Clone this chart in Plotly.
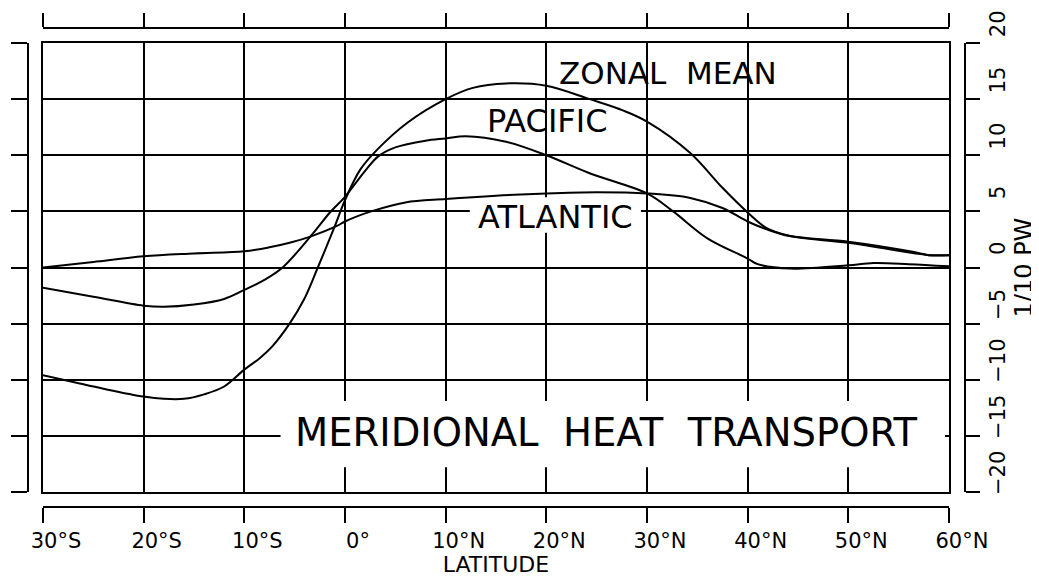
import plotly.graph_objects as go

# ---------------- data ----------------
lat_zonal = [-30, -27, -24, -20, -18, -16, -14, -12, -10, -8.5, -7.2, -5.5, -4.1, -2.7, -1, 0,
             1.5, 3.2, 6.2, 10, 12.7, 16, 20, 24.3, 27.6, 30, 34.3, 37.5, 40, 41.9, 44.2, 50,
             56.4, 58, 60]
zonal_mean = [-9.6, -10.2, -10.8, -11.5, -11.7, -11.7, -11.3, -10.6, -9.1, -8.1, -7.0, -5.0,
              -2.9, 0.0, 3.7, 6.0, 8.7, 10.5, 12.9, 15.0, 16.0, 16.4, 16.2, 15.0, 14.0, 13.0,
              10.2, 7.1, 4.9, 3.5, 2.8, 2.2, 1.3, 1.1, 1.1]

lat_pacific = [-30, -25, -20, -18, -15, -12, -10, -8, -6.2, -3.3, -1.5, 0, 2, 3.3, 5, 8, 10,
               12, 16, 20, 24.3, 30, 32.6, 36, 40, 41, 44.2, 50, 52.5, 56, 60]
pacific = [-1.8, -2.6, -3.4, -3.5, -3.3, -2.8, -2.0, -1.1, 0.0, 2.9, 4.9, 6.3, 8.6, 9.9, 10.7,
           11.3, 11.5, 11.7, 11.2, 10.0, 8.4, 6.6, 5.0, 2.6, 0.8, 0.3, -0.1, 0.2, 0.4, 0.3, 0.1]

lat_atlantic = [-30, -25, -20, -15, -10, -7.5, -5.5, -3.3, -0.8, 0, 2.6, 6, 10, 15, 20, 25, 30,
                34.3, 37.5, 40, 41.9, 44.2, 50, 56.4, 58, 60]
atlantic = [0.0, 0.5, 1.0, 1.25, 1.45, 1.8, 2.2, 2.8, 3.7, 4.1, 5.0, 5.8, 6.1, 6.4, 6.6, 6.7,
            6.6, 6.2, 5.3, 4.1, 3.4, 2.8, 2.3, 1.4, 1.1, 1.1]

x_ticks = [-30, -20, -10, 0, 10, 20, 30, 40, 50, 60]
x_labels = ["30°S", "20°S", "10°S", "0°", "10°N", "20°N", "30°N", "40°N", "50°N", "60°N"]
y_ticks = [-20, -15, -10, -5, 0, 5, 10, 15, 20]
y_labels = ["\u221220", "\u221215", "\u221210", "\u22125", "0", "5", "10", "15", "20"]

series_names = ["ZONAL\u00a0 MEAN", "PACIFIC", "ATLANTIC"]
chart_title = "MERIDIONAL\u00a0\u00a0HEAT\u00a0\u00a0TRANSPORT"
x_title = "LATITUDE"
y_title = "1/10 PW"

FONT = "DejaVu Sans"
INK = "black"

fig = go.Figure()
for lat, vals in [(lat_zonal, zonal_mean), (lat_pacific, pacific), (lat_atlantic, atlantic)]:
    fig.add_trace(go.Scatter(x=lat, y=vals, mode="lines",
                             line=dict(color=INK, width=2, shape="spline", smoothing=1.0),
                             hoverinfo="skip", showlegend=False))

# invisible traces binding the detached frame axes
fig.add_trace(go.Scatter(x=[None], y=[None], xaxis="x2", yaxis="y2", showlegend=False, hoverinfo="skip"))
fig.add_trace(go.Scatter(x=[None], y=[None], xaxis="x3", yaxis="y3", showlegend=False, hoverinfo="skip"))

xr = [-30, 60]
yr = [-20, 20]
common_line = dict(showline=True, linecolor=INK, linewidth=2, zeroline=False, automargin=False)

# the page body adds an 8 px offset, so the figure is 8 px smaller and margins 8 px tighter
fig.update_layout(
    width=1031, height=569,
    margin=dict(l=20, r=74, t=20, b=70, pad=0, autoexpand=False),
    paper_bgcolor="white", plot_bgcolor="white",
    font=dict(family=FONT, color=INK),
    xaxis=dict(domain=[0.016, 0.9829], range=xr, anchor="y", tickvals=x_ticks,
               showticklabels=False, ticks="", showgrid=True, gridcolor=INK, gridwidth=1.8,
               mirror=True, **common_line),
    yaxis=dict(domain=[0.0313, 0.9687], range=yr, anchor="x", tickvals=y_ticks,
               showticklabels=False, ticks="", showgrid=True, gridcolor=INK, gridwidth=1.8,
               mirror=True, **common_line),
    xaxis2=dict(overlaying="x", anchor="free", position=1, side="top", range=xr,
                tickvals=x_ticks, ticks="outside", ticklen=14, tickwidth=2, tickcolor=INK,
                showticklabels=False, showgrid=False, **common_line),
    xaxis3=dict(overlaying="x", anchor="free", position=0, side="bottom", range=xr,
                tickvals=x_ticks, ticktext=x_labels, ticks="outside", ticklen=15, tickwidth=2,
                tickcolor=INK, showgrid=False, tickfont=dict(family=FONT, size=21, color=INK),
                ticklabelshift=13,
                title=dict(text=x_title, font=dict(family=FONT, size=22, color=INK), standoff=10),
                **common_line),
    yaxis2=dict(overlaying="y", anchor="free", position=0, side="left", range=yr,
                tickvals=y_ticks, ticks="outside", ticklen=16, tickwidth=2, tickcolor=INK,
                showticklabels=False, showgrid=False, **common_line),
    yaxis3=dict(overlaying="y", anchor="free", position=1, side="right", range=yr,
                tickvals=y_ticks, ticktext=y_labels, ticks="outside", ticklen=14, tickwidth=2,
                tickcolor=INK, showgrid=False, tickangle=-90, ticklabelshift=-16,
                tickfont=dict(family=FONT, size=21, color=INK),
                title=dict(text=y_title, font=dict(family=FONT, size=24, color=INK), standoff=2),
                **common_line),
)

# white label boxes that break the grid (below the curves)
fig.add_shape(type="rect", xref="x", yref="y", x0=-6.4, x1=59.6, y0=-17.8, y1=-11.9,
              fillcolor="white", line=dict(width=0), layer="between")
fig.add_shape(type="rect", xref="x", yref="y", x0=12.4, x1=29.4, y0=3.1, y1=6.25,
              fillcolor="white", line=dict(width=0), layer="between")

labels = [
    (series_names[0], 32.1, 17.33, 31),
    (series_names[1], 20.1, 13.05, 32),
    (series_names[2], 20.9, 4.5, 32),
    (chart_title, 25.9, -14.74, 38.5),
]
for text, x, y, size in labels:
    fig.add_annotation(x=x, y=y, xref="x", yref="y", text=text, showarrow=False,
                       xanchor="center", yanchor="middle",
                       font=dict(family=FONT, size=size, color=INK))

fig.write_html("out.html")
